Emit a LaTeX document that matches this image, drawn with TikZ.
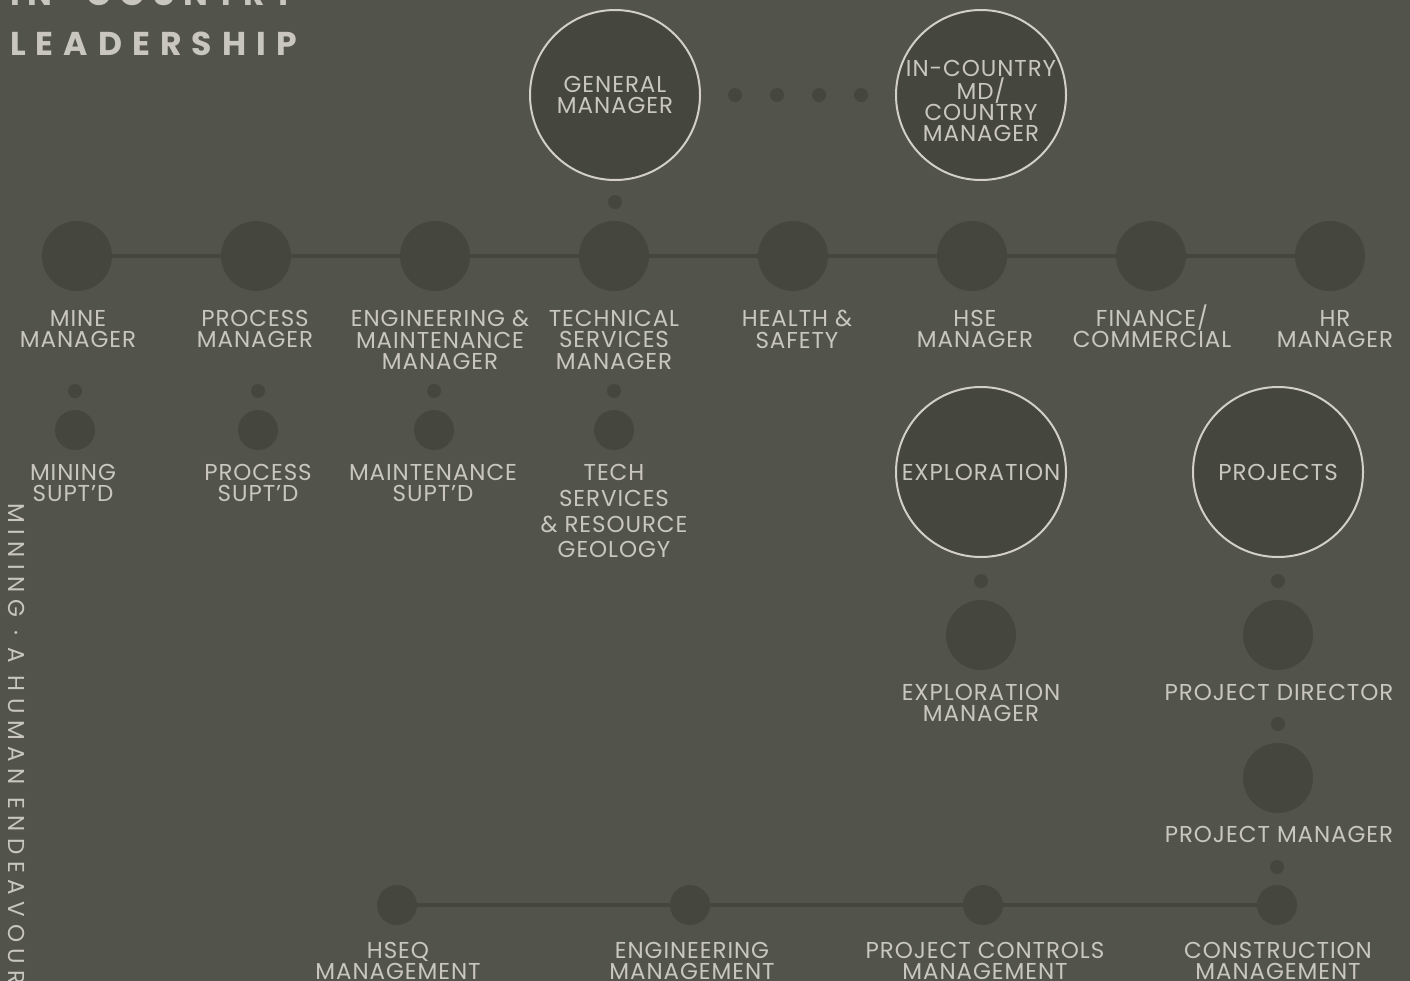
\documentclass[tikz,border=0pt]{standalone}
\usepackage{fontspec}
\setmainfont{Poppins}
\newfontfamily\lblfont[LetterSpace=4]{Poppins}
\newfontfamily\titlefont[LetterSpace=30.5]{Poppins}
\newfontfamily\titlefontb[LetterSpace=23]{Poppins}
\newfontfamily\spinefont[LetterSpace=28.5]{Poppins}
\definecolor{bgc}{RGB}{82,84,75}
\definecolor{darkc}{RGB}{69,70,61}
\definecolor{txtc}{RGB}{200,198,191}
\definecolor{outc}{RGB}{210,207,201}
\pgfdeclarelayer{back}
\pgfsetlayers{back,main}
\begin{document}
\begin{tikzpicture}[x=1pt,y=-1pt,
  bigc/.style={circle,draw=outc,line width=2pt,fill=darkc,minimum size=170pt,inner sep=0pt,
    text=txtc,align=center,font=\lblfont\fontsize{23}{21}\selectfont},
  midc/.style={circle,fill=darkc,minimum size=70pt,inner sep=0pt},
  smc/.style={circle,fill=darkc,minimum size=40pt,inner sep=0pt},
  dotc/.style={circle,fill=darkc,minimum size=14pt,inner sep=0pt},
  lbl/.style={anchor=north,inner sep=0pt,text=txtc,align=center,font=\lblfont\fontsize{23}{21.5}\selectfont},
  lblwide/.style={lbl,font=\lblfont\fontsize{23}{25.8}\selectfont},
  ctext/.style={inner sep=0pt,text=txtc,align=center,font=\lblfont\fontsize{23}{21}\selectfont},
  titletext/.style={anchor=base west,inner sep=0pt,text=txtc,font=\titlefont\bfseries\fontsize{33}{33}\selectfont},
  conn/.style={draw=darkc,line width=4pt}]
\useasboundingbox (0,0) rectangle (1410,980);
% title
\node[titletext,font=\titlefontb\bfseries\fontsize{33}{33}\selectfont] (t1) at (10,5) {IN-COUNTRY};
\node[titletext] (t2) at (10,55) {LEADERSHIP};
% spine
\node[rotate=-90,anchor=base west,inner sep=0pt,text=txtc,font=\spinefont\fontsize{23}{23}\selectfont] (spine) at (9,503) {MINING · A HUMAN ENDEAVOUR};
% top circles
\node[bigc] (gm) at (615,95) {GENERAL\\MANAGER};
\node[bigc] (icmd) at (981,95) {};
\node[ctext] (icmdt) at ([yshift=-6pt]icmd.center) {IN-COUNTRY\\MD/\\COUNTRY\\MANAGER};
\foreach \x [count=\i] in {735,777,819,861} \node[dotc] (gd\i) at (\x,95) {};
\node[dotc] (gmd) at (615,202) {};
% main row
\foreach \x [count=\i] in {77,256,435,614,793,972,1151,1330} \node[midc] (m\i) at (\x,256) {};
\node[lbl] (l1) at (78,310) {MINE\\MANAGER};
\node[lbl] (l2) at (255,310) {PROCESS\\MANAGER};
\node[lbl] (l3) at (440,310) {ENGINEERING \&\\MAINTENANCE\\MANAGER};
\node[lbl] (l4) at (614,310) {TECHNICAL\\SERVICES\\MANAGER};
\node[lbl] (l5) at (797,310) {HEALTH \&\\SAFETY};
\node[lbl] (l6) at (975,310) {HSE\\MANAGER};
\node[lbl] (l7) at (1152,304.5) {FINANCE/\\COMMERCIAL};
\node[lbl] (l8) at (1335,310) {HR\\MANAGER};
% superintendents
\foreach \x [count=\i] in {75,258,434,614} {
  \node[dotc] (sd\i) at (\x,391) {};
  \node[smc] (s\i) at (\x,430) {};
}
\node[lbl] (sl1) at (73,464) {MINING\\SUPT’D};
\node[lbl] (sl2) at (258,464) {PROCESS\\SUPT’D};
\node[lbl] (sl3) at (433,464) {MAINTENANCE\\SUPT’D};
\node[lblwide] (sl4) at (614,464) {TECH\\SERVICES\\\& RESOURCE\\GEOLOGY};
% exploration & projects
\node[bigc] (expl) at (981,472) {EXPLORATION};
\node[bigc] (proj) at (1278,472) {PROJECTS};
\node[dotc] (ed) at (981,581) {};
\node[dotc] (pd) at (1278,581) {};
\node[midc] (em) at (981,635) {};
\node[midc] (pdir) at (1278,635) {};
\node[lbl] (eml) at (981,684) {EXPLORATION\\MANAGER};
\node[lbl] (pdirl) at (1279,684) {PROJECT DIRECTOR};
\node[dotc] (pd2) at (1278,724) {};
\node[midc] (pm) at (1278,778) {};
\node[lbl] (pml) at (1279,826) {PROJECT MANAGER};
\node[dotc] (pd3) at (1277,867) {};
% bottom row
\foreach \x [count=\i] in {397,690,983,1277} \node[smc] (b\i) at (\x,905) {};
\node[lbl] (bl1) at (398,942) {HSEQ\\MANAGEMENT};
\node[lbl] (bl2) at (692,942) {ENGINEERING\\MANAGEMENT};
\node[lbl] (bl3) at (985,942) {PROJECT CONTROLS\\MANAGEMENT};
\node[lbl] (bl4) at (1278,942) {CONSTRUCTION\\MANAGEMENT};
% background and connectors
\begin{pgfonlayer}{back}
\fill[bgc] (-20,-20) rectangle (1430,1000);
\draw[conn] (m1.center) -- (m8.center);
\draw[conn] (b1.center) -- (b4.center);
\end{pgfonlayer}
\end{tikzpicture}
\end{document}
